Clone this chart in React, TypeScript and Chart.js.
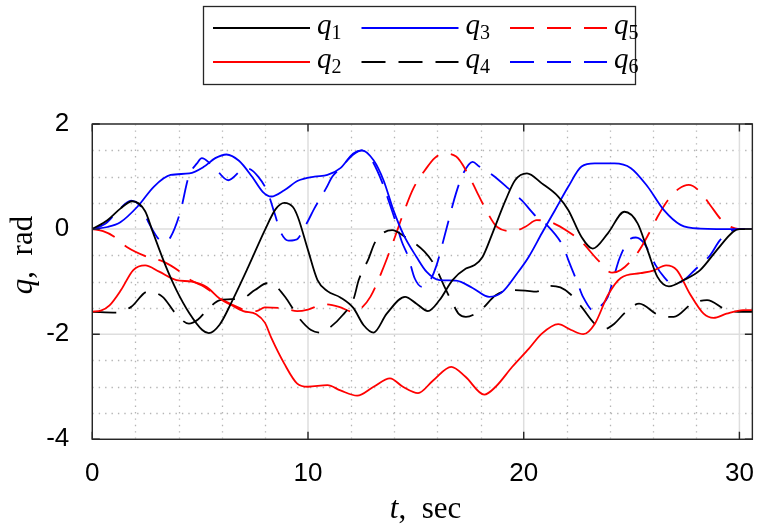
import { useEffect, useRef } from 'react';
import Chart from 'chart.js/auto';

// time (s) and joint angle (rad), one pair of arrays per joint
const q1T = [0, 0.7, 1.3, 1.85, 2.45, 2.8, 3.4, 3.9, 4.5, 5.1, 5.4, 5.9, 6.47, 7.23, 8.0, 8.5, 8.9, 9.3, 9.53, 10.0, 10.44, 10.9, 11.5, 12.1, 12.58, 13.04, 13.65, 14.5, 15.03, 15.56, 16.1, 16.7, 17.32, 17.7, 18.09, 18.55, 19.16, 19.6, 20.15, 20.84, 21.6, 22.07, 22.68, 23.2, 23.9, 24.67, 25.28, 25.74, 26.2, 26.73, 27.42, 28.18, 28.95, 29.71, 30.0, 30.6];
const q1V = [0, 0.17, 0.39, 0.53, 0.34, -0.05, -0.7, -1.16, -1.6, -1.92, -1.98, -1.82, -1.38, -0.72, -0.02, 0.38, 0.5, 0.42, 0.23, -0.4, -0.97, -1.18, -1.3, -1.5, -1.83, -1.97, -1.61, -1.29, -1.42, -1.56, -1.35, -0.97, -0.75, -0.69, -0.53, -0.08, 0.55, 0.93, 1.06, 0.87, 0.62, 0.36, -0.15, -0.37, -0.08, 0.33, 0.11, -0.4, -0.91, -1.09, -0.97, -0.78, -0.4, -0.05, 0, 0];

const q2T = [0, 0.4, 0.8, 1.33, 1.9, 2.45, 3.1, 3.9, 4.6, 5.3, 5.9, 6.47, 7.0, 7.6, 8.0, 8.3, 8.9, 9.5, 10.0, 10.9, 11.5, 12.28, 13.04, 13.8, 14.4, 15.1, 15.8, 16.64, 17.3, 18.17, 18.7, 19.47, 20.23, 20.84, 21.6, 22.2, 22.76, 23.3, 23.9, 24.5, 25.4, 26.0, 26.6, 27.1, 27.7, 28.34, 28.8, 29.4, 30.17, 30.6];
const q2V = [-1.57, -1.55, -1.45, -1.16, -0.78, -0.69, -0.81, -0.97, -1.0, -1.1, -1.32, -1.45, -1.56, -1.62, -1.78, -2.07, -2.56, -2.94, -3.0, -2.97, -3.07, -3.17, -3.0, -2.84, -3.0, -3.12, -2.88, -2.62, -2.81, -3.15, -3.0, -2.62, -2.28, -1.99, -1.81, -1.92, -2.0, -1.8, -1.26, -0.93, -0.84, -0.79, -0.69, -0.78, -1.23, -1.61, -1.69, -1.61, -1.54, -1.54];

const q3T = [0, 0.7, 1.3, 2.1, 2.86, 3.63, 4.5, 5.15, 5.7, 6.22, 6.8, 7.4, 7.9, 8.3, 8.9, 9.53, 10.3, 10.9, 11.5, 12.1, 12.5, 13.04, 13.5, 13.96, 14.42, 15.03, 15.49, 16.1, 16.86, 17.63, 18.4, 19.0, 19.7, 20.23, 20.84, 21.45, 22.07, 22.68, 23.29, 24.2, 24.97, 25.74, 26.5, 27.27, 28.18, 30.0, 30.6];
const q3V = [0, 0.04, 0.13, 0.43, 0.81, 1.03, 1.06, 1.18, 1.35, 1.42, 1.3, 1.0, 0.71, 0.62, 0.74, 0.92, 1.0, 1.03, 1.16, 1.44, 1.5, 1.31, 0.93, 0.36, -0.1, -0.53, -0.81, -0.97, -0.98, -1.12, -1.29, -1.2, -0.84, -0.53, -0.08, 0.36, 0.81, 1.19, 1.25, 1.25, 1.16, 0.81, 0.36, 0.08, 0.01, 0, 0];

const q4T = [0, 1.1, 1.8, 2.57, 3.26, 3.87, 4.48, 4.9, 5.32, 5.93, 6.93, 7.54, 8.1, 8.54, 8.99, 9.6, 10.14, 10.6, 11.05, 11.6, 12.12, 12.35, 12.81, 13.12, 13.9, 14.5, 15.4, 15.87, 16.33, 16.63, 17.0, 17.32, 18.01, 18.7, 19.46, 20.07, 20.6, 21.2, 21.7, 22.14, 22.68, 23.29, 23.75, 24.2, 24.7, 25.35, 26.27, 26.96, 27.8, 28.5, 29.4, 30.17, 30.6];
const q4V = [-1.575, -1.59, -1.48, -1.19, -1.29, -1.61, -1.8, -1.72, -1.54, -1.35, -1.32, -1.16, -1.03, -1.1, -1.32, -1.7, -1.92, -1.97, -1.86, -1.64, -1.32, -0.97, -0.56, -0.24, -0.02, -0.15, -0.43, -0.69, -1.1, -1.35, -1.62, -1.67, -1.54, -1.26, -1.16, -1.17, -1.19, -1.08, -1.11, -1.23, -1.48, -1.8, -1.9, -1.8, -1.59, -1.42, -1.64, -1.67, -1.42, -1.35, -1.54, -1.575, -1.575];

const q5T = [0, 0.5, 1.0, 1.6, 2.56, 3.3, 4.17, 4.6, 5.2, 5.8, 6.2, 7.2, 7.6, 8.0, 8.9, 9.5, 10.0, 10.75, 11.44, 12.05, 12.45, 12.89, 13.42, 14.03, 14.42, 14.88, 15.49, 15.87, 16.25, 16.87, 17.4, 17.86, 18.17, 18.77, 19.5, 20.1, 20.6, 21.2, 22.07, 22.68, 23.44, 24.1, 24.5, 25.28, 25.81, 26.2, 26.65, 27.2, 27.65, 28.18, 28.64, 29.25, 30.0, 30.6];
const q5V = [0, -0.04, -0.14, -0.34, -0.53, -0.62, -0.84, -0.98, -1.1, -1.28, -1.38, -1.55, -1.56, -1.49, -1.51, -1.56, -1.53, -1.43, -1.48, -1.57, -1.51, -1.29, -0.81, -0.15, 0.3, 0.77, 1.16, 1.35, 1.44, 1.38, 1.06, 0.68, 0.43, 0.04, -0.04, 0.05, 0.17, 0.14, -0.05, -0.24, -0.59, -0.83, -0.78, -0.45, -0.08, 0.23, 0.53, 0.77, 0.84, 0.71, 0.46, 0.14, 0, 0];

const q6T = [0, 0.6, 1.2, 1.8, 2.3, 2.63, 3.1, 3.4, 3.63, 4.08, 4.47, 4.85, 5.08, 5.46, 5.69, 6.3, 6.9, 7.14, 7.69, 8.15, 8.45, 8.76, 9.1, 9.37, 9.53, 9.98, 10.29, 10.83, 11.13, 11.5, 12.1, 12.5, 12.9, 13.43, 13.73, 14.04, 14.35, 14.65, 14.95, 15.3, 15.6, 15.95, 16.4, 16.86, 17.2, 17.63, 17.94, 18.55, 19.3, 19.9, 20.6, 21.07, 21.84, 22.07, 22.5, 22.75, 23.3, 23.6, 23.9, 24.2, 24.44, 24.97, 25.2, 25.58, 26.12, 26.5, 26.9, 27.4, 28.0, 28.64, 29.1, 29.7, 30.0, 30.6];
const q6V = [0, 0.1, 0.35, 0.54, 0.4, 0.11, -0.2, -0.24, -0.15, 0.33, 1.0, 1.25, 1.35, 1.25, 1.16, 0.93, 1.12, 1.16, 1.0, 0.68, 0.3, -0.08, -0.22, -0.21, -0.18, 0.14, 0.39, 0.77, 1.0, 1.16, 1.42, 1.5, 1.35, 0.9, 0.55, 0.17, -0.24, -0.53, -0.94, -1.1, -1.02, -0.7, -0.02, 0.68, 1.06, 1.28, 1.19, 1.03, 0.77, 0.55, 0.23, 0.08, -0.34, -0.59, -1.03, -1.29, -1.57, -1.45, -1.29, -0.88, -0.56, -0.18, -0.16, -0.27, -0.69, -0.91, -1.05, -0.98, -0.75, -0.5, -0.21, -0.02, 0, 0];

const seriesT = [q1T, q2T, q3T, q4T, q5T, q6T];
const seriesV = [q1V, q2V, q3V, q4V, q5V, q6V];
const seriesIndex = ['1', '2', '3', '4', '5', '6'];
const seriesColors = ['#000000', '#ff0000', '#0000ff', '#000000', '#ff0000', '#0000ff'];
const seriesDashed = [false, false, false, true, true, true];
// legend cells in the order they are shown: top row then bottom row
const legendOrder = [0, 2, 4, 1, 3, 5];

const xTicks = [0, 10, 20, 30];
const yTicks = [-4, -2, 0, 2];
const xMinor = [2, 4, 6, 8, 12, 14, 16, 18, 22, 24, 26, 28];
const yMinor = [-3.5, -3, -2.5, -1.5, -1, -0.5, 0.5, 1, 1.5];

const DASH = [24, 13];
const AXIS = '#262626';

const framePlugin = {
  id: 'frame',
  beforeDatasetsDraw(chart: any) {
    const { ctx, chartArea: a, scales } = chart;
    const x = scales.x;
    const y = scales.y;
    ctx.save();
    ctx.lineWidth = 1.3;
    ctx.strokeStyle = '#b5b5b5';
    ctx.setLineDash([1.4, 5]);
    ctx.beginPath();
    xMinor.forEach(v => {
      const px = Math.round(x.getPixelForValue(v)) + 0.5;
      ctx.moveTo(px, a.top);
      ctx.lineTo(px, a.bottom);
    });
    yMinor.forEach(v => {
      const py = Math.round(y.getPixelForValue(v)) + 0.5;
      ctx.moveTo(a.left, py);
      ctx.lineTo(a.right, py);
    });
    ctx.stroke();
    ctx.setLineDash([]);
    ctx.strokeStyle = '#dedede';
    ctx.lineWidth = 1.5;
    ctx.beginPath();
    xTicks.forEach(v => {
      const px = x.getPixelForValue(v);
      ctx.moveTo(px, a.top);
      ctx.lineTo(px, a.bottom);
    });
    yTicks.forEach(v => {
      const py = y.getPixelForValue(v);
      ctx.moveTo(a.left, py);
      ctx.lineTo(a.right, py);
    });
    ctx.stroke();
    ctx.restore();
  },
  afterDatasetsDraw(chart: any) {
    const { ctx, chartArea: a, scales } = chart;
    const x = scales.x;
    const y = scales.y;
    const len = 7.5;
    ctx.save();
    ctx.strokeStyle = AXIS;
    ctx.lineWidth = 1.4;
    ctx.beginPath();
    xTicks.forEach(v => {
      const px = x.getPixelForValue(v);
      ctx.moveTo(px, a.bottom);
      ctx.lineTo(px, a.bottom - len);
      ctx.moveTo(px, a.top);
      ctx.lineTo(px, a.top + len);
    });
    yTicks.forEach(v => {
      const py = y.getPixelForValue(v);
      ctx.moveTo(a.left, py);
      ctx.lineTo(a.left + len, py);
      ctx.moveTo(a.right, py);
      ctx.lineTo(a.right - len, py);
    });
    ctx.stroke();
    ctx.strokeRect(a.left, a.top, a.right - a.left, a.bottom - a.top);
    ctx.restore();
  },
};

const JointChart = () => {
  const canvasRef = useRef<HTMLCanvasElement>(null);

  useEffect(() => {
    if (!canvasRef.current) return;
    const chart = new Chart(canvasRef.current, {
      type: 'line',
      data: {
        datasets: seriesT.map((ts, i) => ({
          label: 'q' + seriesIndex[i],
          data: ts.map((t, k) => ({ x: t, y: seriesV[i][k] })),
          borderColor: seriesColors[i],
          borderWidth: 1.8,
          borderDash: seriesDashed[i] ? DASH : [],
          pointRadius: 0,
          fill: false,
          cubicInterpolationMode: 'monotone' as const,
        })),
      },
      options: {
        animation: false,
        responsive: true,
        maintainAspectRatio: false,
        layout: { padding: { top: 124, right: 6, left: 0, bottom: 0 } },
        plugins: {
          legend: { display: false },
          tooltip: { enabled: false },
        },
        scales: {
          x: {
            type: 'linear',
            min: 0,
            max: 30.6,
            grid: { display: false },
            border: { display: false },
            ticks: {
              stepSize: 10,
              includeBounds: false,
              autoSkip: false,
              maxRotation: 0,
              padding: 11,
              color: '#000',
              font: { family: "'Liberation Sans', Arial, sans-serif", size: 26 },
            },
            afterFit: (s: any) => {
              s.height = 90.7;
            },
          },
          y: {
            type: 'linear',
            min: -4,
            max: 2,
            grid: { display: false },
            border: { display: false },
            ticks: {
              stepSize: 2,
              includeBounds: false,
              padding: 15,
              color: '#000',
              font: { family: "'Liberation Sans', Arial, sans-serif", size: 26 },
            },
            afterFit: (s: any) => {
              s.width = 92.3;
            },
          },
        },
      },
      plugins: [framePlugin],
    });
    return () => chart.destroy();
  }, []);

  const serif = "'Liberation Serif', 'Times New Roman', serif";

  return (
    <div style={{ position: 'fixed', left: 0, top: 0, width: 765, height: 530, background: '#fff' }}>
      <canvas ref={canvasRef} />
      <svg
        width={765}
        height={530}
        style={{ position: 'absolute', left: 0, top: 0, pointerEvents: 'none' }}
      >
        <rect x={203.5} y={6.5} width={432} height={78} fill="#fff" stroke={AXIS} strokeWidth={1.3} />
        {legendOrder.map((si, cell) => {
          const col = cell % 3;
          const row = Math.floor(cell / 3);
          const x0 = 213 + col * 148.5;
          const ly = 28 + row * 34;
          return (
            <g key={si}>
              <line
                x1={x0}
                x2={x0 + 97}
                y1={ly}
                y2={ly}
                stroke={seriesColors[si]}
                strokeWidth={1.8}
                strokeDasharray={seriesDashed[si] ? DASH.join(' ') : undefined}
              />
              <text x={x0 + 104} y={ly + 6} fontFamily={serif} fontSize={29} fill="#000">
                <tspan fontStyle="italic">q</tspan>
                <tspan fontSize={20} dy={5}>{seriesIndex[si]}</tspan>
              </text>
            </g>
          );
        })}
        <text x={425.6} y={518} textAnchor="middle" fontFamily={serif} fontSize={31} fill="#000">
          <tspan fontStyle="italic">t</tspan>
          <tspan>{',\u2002sec'}</tspan>
        </text>
        <text
          transform="translate(32 255) rotate(-90)"
          textAnchor="middle"
          fontFamily={serif}
          fontSize={31}
          fill="#000"
        >
          <tspan fontStyle="italic">q</tspan>
          <tspan>{',\u2002rad'}</tspan>
        </text>
      </svg>
    </div>
  );
};

export default function App() {
  return <JointChart />;
}
